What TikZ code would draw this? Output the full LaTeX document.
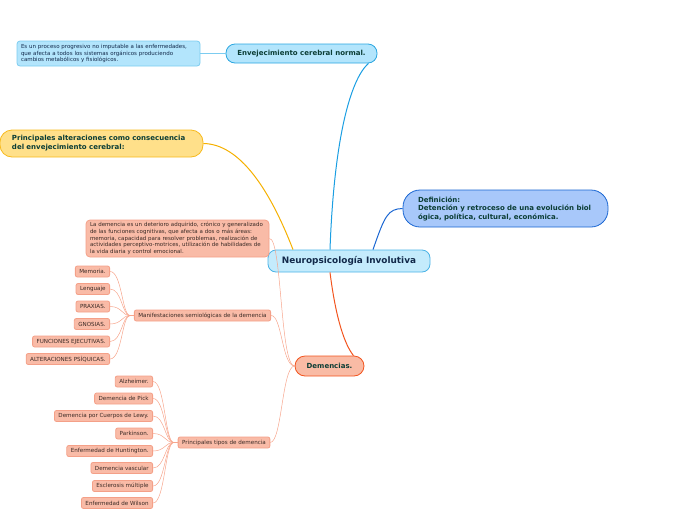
\documentclass[tikz,border=0pt]{standalone}
\usepackage{fontspec}
\setmainfont{DejaVu Sans}
\usetikzlibrary{calc}
\definecolor{tealtxt}{HTML}{0B3D35}
\definecolor{navytxt}{HTML}{12294A}
\definecolor{leaftxt}{HTML}{3A2A25}
\definecolor{cfill}{HTML}{C4EBFC}
\definecolor{cline}{HTML}{4BB3E6}
\definecolor{efill}{HTML}{B3E5FC}
\definecolor{eline}{HTML}{2AA6E0}
\definecolor{dline}{HTML}{7CCCF0}
\definecolor{yfill}{HTML}{FFE08A}
\definecolor{yline}{HTML}{F7BA1E}
\definecolor{yedge}{HTML}{F5B000}
\definecolor{bfill}{HTML}{A8C8FA}
\definecolor{bline}{HTML}{1A66D2}
\definecolor{rfill}{HTML}{F9BBA5}
\definecolor{rline}{HTML}{F2541E}
\definecolor{sfill}{HTML}{F9BBA7}
\definecolor{sline}{HTML}{F4A088}
\definecolor{sedge}{HTML}{F7A58C}
\definecolor{benv}{HTML}{1A9EE2}
\tikzset{
  mainbox/.style={draw, line width=0.8pt, inner sep=0pt, align=center},
  smallbox/.style={draw=sline, fill=sfill, line width=0.8pt, rounded corners=2pt,
    minimum height=11pt, inner xsep=4pt, inner ysep=0pt, font=\fontsize{5.6}{6.5}\selectfont, text=leaftxt},
  leafline/.style={draw=sedge, line width=0.5pt},
}
\begin{document}
\begin{tikzpicture}[x=1pt,y=-1pt]
\useasboundingbox (0,0) rectangle (696,520);
% main nodes
\node[mainbox, draw=cline, fill=cfill, rounded corners=8pt, minimum width=162pt, minimum height=22pt,
  font=\fontsize{8.9}{10}\selectfont\bfseries, text=navytxt] (c) at (349,261) {Neuropsicología Involutiva};
\node[mainbox, draw=eline, fill=efill, rounded corners=9pt, minimum width=151pt, minimum height=19pt,
  font=\fontsize{7}{8}\selectfont\bfseries, text=tealtxt] (env) at (301.5,53.5) {Envejecimiento cerebral normal.};
\node[draw=dline, fill=efill, line width=0.8pt, rounded corners=3pt, minimum width=183pt, minimum height=25pt,
  text width=175pt, inner xsep=4pt, inner ysep=0pt, align=left, font=\fontsize{5.5}{6.6}\selectfont, text=navytxt] (envd) at (108.5,53.5)
  {Es un proceso progresivo no imputable a las enfermedades,\\que afecta a todos los sistemas orgánicos produciendo\\cambios metabólicos y fisiológicos.};
\node[draw=yline, fill=yfill, line width=0.8pt, rounded corners=12pt, minimum width=203pt, minimum height=27pt,
  text width=179pt, inner xsep=12pt, inner ysep=0pt, align=left, font=\fontsize{7}{9}\selectfont\bfseries, text=tealtxt] (alt) at (101.5,143.5)
  {Principales alteraciones como consecuencia\\del envejecimiento cerebral:};
\node[draw=bline, fill=bfill, line width=0.8pt, rounded corners=17pt, minimum width=205pt, minimum height=37pt,
  text width=175pt, inner xsep=15pt, inner ysep=0pt, align=left, font=\fontsize{7}{8.5}\selectfont\bfseries, text=tealtxt] (def) at (505.5,208.5)
  {Definición:\\Detención y retroceso de una evolución biol\\ógica, política, cultural, económica.};
\node[mainbox, draw=rline, fill=rfill, rounded corners=10pt, minimum width=69pt, minimum height=20pt,
  font=\fontsize{7}{8}\selectfont\bfseries, text=tealtxt] (dem) at (329.5,366) {Demencias.};
\node[draw=sline, fill=sfill, line width=0.8pt, rounded corners=4pt, minimum width=183pt, minimum height=37pt,
  text width=175pt, inner xsep=4pt, inner ysep=0pt, align=left, font=\fontsize{5.5}{6.6}\selectfont, text=leaftxt] (demd) at (177.5,238.5)
  {La demencia es un deterioro adquirido, crónico y generalizado\\de las funciones cognitivas, que afecta a dos o más áreas:\\memoria, capacidad para resolver problemas, realización de\\actividades perceptivo-motrices, utilización de habilidades de\\la vida diaria y control emocional.};
\node[smallbox, minimum width=133pt] (man) at (202.5,315.5) {Manifestaciones semiológicas de la demencia};
\node[smallbox, minimum width=90pt] (tip) at (224,442.5) {Principales tipos de demencia};
% leaves of manifestaciones
\node[smallbox, anchor=east] (m1) at (110,271.5) {Memoria.};
\node[smallbox, anchor=east] (m2) at (110,289) {Lenguaje};
\node[smallbox, anchor=east] (m3) at (110,306.5) {PRAXIAS.};
\node[smallbox, anchor=east] (m4) at (110,324) {GNOSIAS.};
\node[smallbox, anchor=east] (m5) at (110,341.5) {FUNCIONES EJECUTIVAS.};
\node[smallbox, anchor=east] (m6) at (110,359) {ALTERACIONES PSÍQUICAS.};
% leaves of tipos
\node[smallbox, anchor=east] (t1) at (153,381.5) {Alzheimer.};
\node[smallbox, anchor=east] (t2) at (153,398.5) {Demencia de Pick};
\node[smallbox, anchor=east] (t3) at (153,416) {Demencia por Cuerpos de Lewy.};
\node[smallbox, anchor=east] (t4) at (153,433.5) {Parkinson.};
\node[smallbox, anchor=east] (t5) at (153,451) {Enfermedad de Huntington.};
\node[smallbox, anchor=east] (t6) at (153,468) {Demencia vascular};
\node[smallbox, anchor=east] (t7) at (153,486) {Esclerosis múltiple};
\node[smallbox, anchor=east] (t8) at (153,503) {Enfermedad de Wilson};
% main connectors
\draw[benv, line width=1pt] ($(c.north)+(-19,0)$) .. controls (334,140) and (350,80) .. ($(env.south east)+(-9,0)$);
\draw[dline, line width=1pt] (env.west) -- (envd.east);
\draw[yedge, line width=1pt] ($(c.north)+(-56,0)$) .. controls (270,190) and (240,144) .. (alt.east);
\draw[bline, line width=1pt] ($(c.north)+(24,0)$) .. controls (385,215) and (388,209) .. (def.west);
\draw[rline, line width=1pt] ($(c.south)+(-19,0)$) .. controls (336,320) and (345,345) .. ($(dem.north)+(24,0)$);
% demencias children
\draw[leafline] (dem.west) .. controls (280,366) and (282,238) .. (demd.east);
\draw[leafline] (dem.west) .. controls (282,366) and (282,315) .. (man.east);
\draw[leafline] (dem.west) .. controls (282,366) and (282,442) .. (tip.east);
% manifestaciones leaves
\foreach \n in {m1,m2,m3,m4,m5,m6}{
  \draw[leafline] (man.west) -- ++(-4,0) .. controls (122,315.5) and (122,0|-\n.east) .. (\n.east);
}
\foreach \n in {t1,t2,t3,t4,t5,t6,t7,t8}{
  \draw[leafline] (tip.west) -- ++(-4,0) .. controls (165,442.5) and (165,0|-\n.east) .. (\n.east);
}
\end{tikzpicture}
\end{document}
